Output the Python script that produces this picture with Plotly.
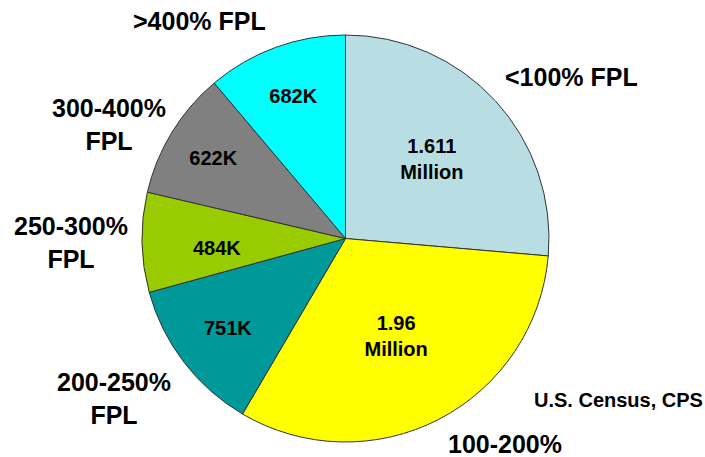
import plotly.graph_objects as go

categories = ["<100% FPL", "100-200%", "200-250% FPL", "250-300% FPL", "300-400% FPL", ">400% FPL"]
values = [1.611, 1.96, 0.751, 0.484, 0.622, 0.682]  # millions
inside_labels = ["1.611<br>Million", "1.96<br>Million", "751K", "", "622K", "682K"]
colors = ["#B8DEE3", "#FFFF00", "#009999", "#99CC00", "#808080", "#00FFFF"]

# outside category labels (text, x px, y px from top)
outside_labels = [
    ("<100% FPL", 571, 77),
    ("100-200%", 505, 444),
    ("200-250%<br>FPL", 114, 398),
    ("250-300%<br>FPL", 71, 243),
    ("300-400%<br>FPL", 109, 124),
    (">400% FPL", 199, 21),
]
small_slice_label = ("484K", 217, 248)
source_text = "U.S. Census, CPS"

W, H = 705, 457
cx, cy, r = 345.5, 238.5, 203.5
FONT = "Liberation Sans, Arial"

fig = go.Figure(go.Pie(
    labels=categories,
    values=values,
    text=["<b>" + t + "</b>" if t else "" for t in inside_labels],
    textinfo="text",
    textposition="inside",
    insidetextorientation="horizontal",
    textfont=dict(family=FONT, size=20, color="black"),
    marker=dict(colors=colors, line=dict(color="#333333", width=1)),
    sort=False,
    direction="clockwise",
    rotation=0,
    showlegend=False,
    hoverinfo="label+value",
    domain=dict(x=[(cx - r) / W, (cx + r) / W], y=[(H - cy - r) / H, (H - cy + r) / H]),
))

annotations = []
for txt, x, y in outside_labels:
    annotations.append(dict(
        text="<b>" + txt + "</b>", x=x / W, y=1 - y / H, xref="paper", yref="paper",
        xanchor="center", yanchor="middle", showarrow=False, align="center",
        font=dict(family=FONT, size=25, color="black"),
    ))
t, x, y = small_slice_label
annotations.append(dict(
    text="<b>" + t + "</b>", x=x / W, y=1 - y / H, xref="paper", yref="paper",
    xanchor="center", yanchor="middle", showarrow=False,
    font=dict(family=FONT, size=20, color="black"),
))
annotations.append(dict(
    text="<b>" + source_text + "</b>", x=1.0, y=1 - 400 / H, xref="paper", yref="paper",
    xanchor="right", yanchor="middle", showarrow=False,
    font=dict(family=FONT, size=20, color="black"),
))

fig.update_layout(
    width=W, height=H,
    margin=dict(l=0, r=0, t=0, b=0),
    paper_bgcolor="white", plot_bgcolor="white",
    annotations=annotations,
)

fig.write_html("out.html", config={"displayModeBar": False},
               post_script="document.body.style.margin='0';document.body.style.overflow='hidden';")
